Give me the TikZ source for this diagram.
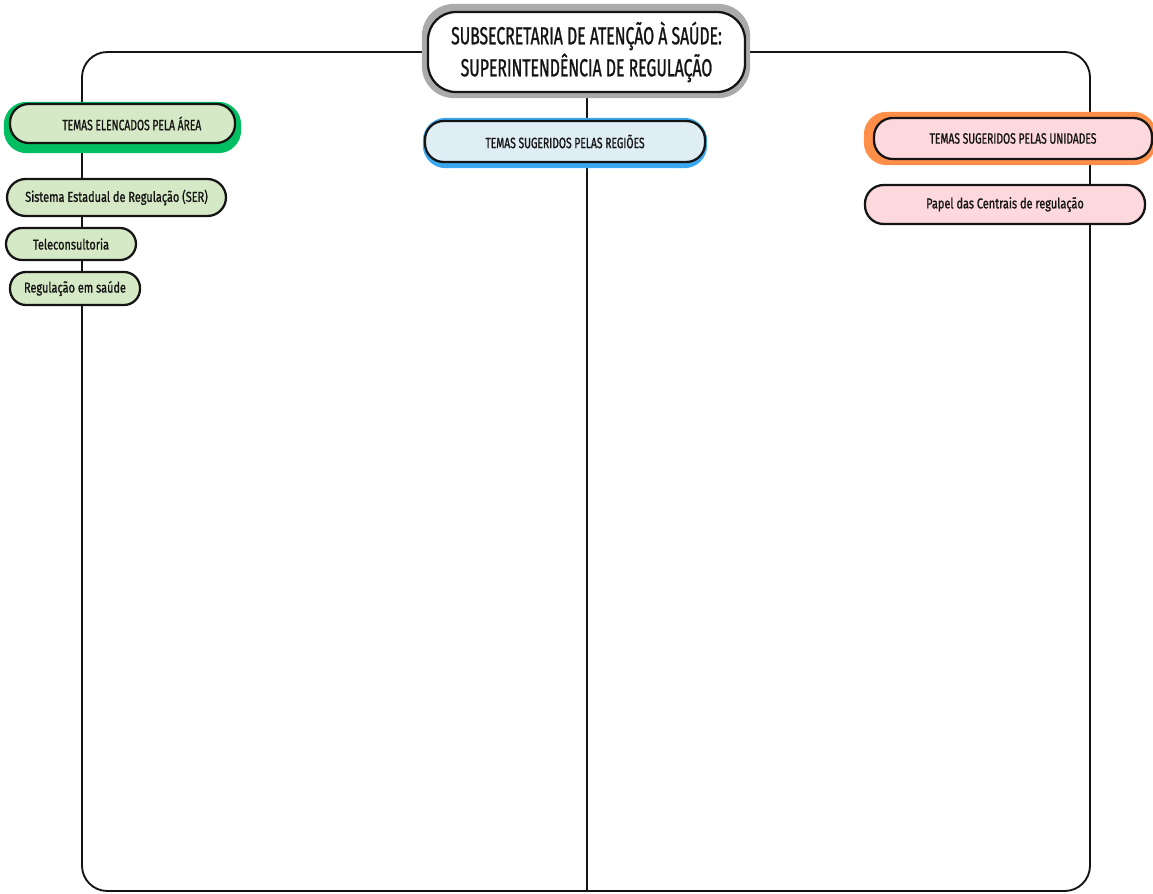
\documentclass[tikz,border=0pt]{standalone}
\usepackage{fontspec}
\newfontfamily\titlefont[FakeStretch=0.64,FakeBold=1.0]{Fira Sans}
\newfontfamily\headerfont[FakeStretch=0.69,FakeBold=1.0]{Fira Sans}
\newfontfamily\itemfont[FakeStretch=0.76,FakeBold=1.0]{Fira Sans}
\pgfdeclarelayer{paper}
\pgfdeclarelayer{frame}
\pgfdeclarelayer{shade}
\pgfsetlayers{paper,frame,shade,main}
\definecolor{inkline}{RGB}{20,20,20}
\definecolor{greenfill}{RGB}{214,233,198}
\definecolor{greenedge}{RGB}{0,190,98}
\definecolor{bluefill}{RGB}{223,238,244}
\definecolor{blueedge}{RGB}{58,168,240}
\definecolor{pinkfill}{RGB}{253,216,220}
\definecolor{orangeedge}{RGB}{255,142,72}
\definecolor{greyedge}{RGB}{170,170,170}
\tikzset{
  pill/.style={draw=inkline, line width=1.7pt, rounded corners=14pt,
    inner sep=0pt, align=center, text=inkline},
  itembox/.style={pill, font=\itemfont\fontsize{10.8}{12}\selectfont},
  headbox/.style={pill, font=\headerfont\fontsize{11.2}{13}\selectfont},
  titlebox/.style={pill, fill=white, rounded corners=21pt,
    font=\titlefont\fontsize{18.5}{24}\selectfont},
  frameline/.style={draw=inkline, line width=1.4pt},
}
\begin{document}
\begin{tikzpicture}[x=0.75pt, y=-0.75pt]
\useasboundingbox (0,0) rectangle (1153,893);
\begin{pgfonlayer}{paper}
  \fill[white] (0,0) rectangle (1153,893);
\end{pgfonlayer}

% title
\node[titlebox, minimum width=237.75pt, minimum height=60pt] (title) at (586.5,52)
  {SUBSECRETARIA DE ATENÇÃO À SAÚDE:\\SUPERINTENDÊNCIA DE REGULAÇÃO};

% column headers
\node[headbox, fill=greenfill, minimum width=168.75pt, minimum height=29.25pt] (area) at (122.5,123.5)
  {\hspace*{14pt}TEMAS ELENCADOS PELA ÁREA};
\node[headbox, fill=bluefill, minimum width=210pt, minimum height=30.75pt] (regioes) at (565,141.5)
  {TEMAS SUGERIDOS PELAS REGIÕES};
\node[headbox, fill=pinkfill, minimum width=208.5pt, minimum height=30.75pt] (unidades) at (1013,138.5)
  {TEMAS SUGERIDOS PELAS UNIDADES};

% items
\node[itembox, fill=greenfill, minimum width=164.25pt, minimum height=27.75pt] (ser) at (116.5,197.5)
  {Sistema Estadual de Regulação (SER)};
\node[itembox, fill=greenfill, minimum width=97.5pt, minimum height=24pt, rounded corners=12pt] (tele) at (71,244)
  {Teleconsultoria};
\node[itembox, fill=greenfill, minimum width=97.5pt, minimum height=24.75pt, rounded corners=12pt] (regsaude) at (75,288.5)
  {Regulação em saúde};
\node[itembox, fill=pinkfill, minimum width=210pt, minimum height=29.25pt] (papel) at (1005,204.5)
  {Papel das Centrais de regulação};

% coloured backings behind the headers
\begin{pgfonlayer}{shade}
  \fill[greyedge, rounded corners=24pt]
    ([shift={(-5,-7)}]title.north west) rectangle ([shift={(4,5)}]title.south east);
  \fill[greenedge, rounded corners=17pt]
    ([shift={(-5,-1)}]area.north west) rectangle ([shift={(5,9)}]area.south east);
  \fill[blueedge, rounded corners=17pt]
    ([shift={(-1,-2)}]regioes.north west) rectangle ([shift={(1,5)}]regioes.south east);
  \fill[orangeedge, rounded corners=17pt]
    ([shift={(-9,-5)}]unidades.north west) rectangle ([shift={(3,5)}]unidades.south east);
\end{pgfonlayer}

% frame and central divider
\begin{pgfonlayer}{frame}
  \coordinate (bl) at (82,891);
  \coordinate (br) at (1090,891);
  \coordinate (bm) at (587,891);
  \path[frameline, rounded corners=19pt]
    (title.west) -- (82,52) -- (bl) -- (br) -- (1090,52) -- (title.east);
  \path[frameline, line width=1.1pt] (title.south -| bm) -- (bm);
\end{pgfonlayer}
\end{tikzpicture}
\end{document}
